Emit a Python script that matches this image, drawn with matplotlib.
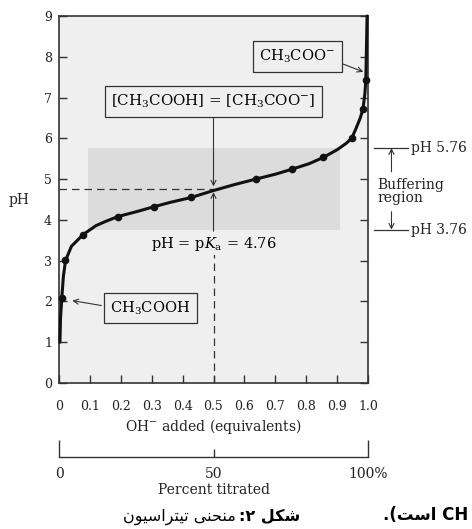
import matplotlib
matplotlib.use("Agg")
import matplotlib.pyplot as plt
from matplotlib.patches import Rectangle

plt.rcParams['font.family'] = ['DejaVu Serif']
plt.rcParams['mathtext.fontset'] = 'dejavuserif'

# ---- data ----
curve_x = [0.003, 0.005, 0.009, 0.014, 0.021, 0.04, 0.078, 0.12, 0.15, 0.19, 0.25,
           0.306, 0.36, 0.428, 0.5, 0.57, 0.637, 0.70, 0.755, 0.81, 0.855, 0.90,
           0.93, 0.947, 0.96, 0.975, 0.984, 0.99, 0.993, 0.995, 0.997]
curve_ph = [1.0, 1.6, 2.08, 2.6, 3.0, 3.35, 3.64, 3.86, 3.96, 4.08, 4.2,
            4.32, 4.43, 4.55, 4.72, 4.87, 5.0, 5.12, 5.245, 5.38, 5.53, 5.72,
            5.88, 6.0, 6.22, 6.5, 6.73, 7.1, 7.44, 8.2, 9.0]
marker_x = [0.009, 0.021, 0.078, 0.19, 0.306, 0.428, 0.637, 0.755, 0.855, 0.947, 0.984, 0.993]
marker_ph = [2.08, 3.01, 3.64, 4.08, 4.32, 4.55, 5.0, 5.245, 5.53, 6.0, 6.73, 7.44]
pka = 4.76
buffer_low, buffer_high = 3.76, 5.76
buffer_x = [0.095, 0.91]
x_ticks = [0, 0.1, 0.2, 0.3, 0.4, 0.5, 0.6, 0.7, 0.8, 0.9, 1.0]
x_tick_labels = ['0', '0.1', '0.2', '0.3', '0.4', '0.5', '0.6', '0.7', '0.8', '0.9', '1.0']
y_ticks = list(range(0, 10))
pct_major = [0, 100]
pct_major_labels = ['0', '100%']
pct_minor = [50]
pct_minor_labels = ['50']

W, H = 472, 529
fig = plt.figure(figsize=(W / 100, H / 100), dpi=100)
ax = fig.add_axes([59 / W, 1 - 383 / H, 309 / W, (383 - 16) / H])
ax.set_facecolor('#efefef')
ax.set_xlim(0, 1)
ax.set_ylim(0, 9)

dark = '#333333'
for s in ax.spines.values():
    s.set_color(dark)
    s.set_linewidth(1.2)

ax.add_patch(Rectangle((buffer_x[0], buffer_low), buffer_x[1] - buffer_x[0],
                       buffer_high - buffer_low, facecolor='#dcdcdc', edgecolor='none', zorder=1))

# dashed guide lines
ax.plot([0, 0.5], [pka, pka], ls=(0, (6, 4)), color=dark, lw=0.9, zorder=2)
ax.plot([0.5, 0.5], [0, 3.3], ls=(0, (6, 4)), color=dark, lw=0.9, zorder=2)

ax.plot(curve_x, curve_ph, color='#111111', lw=2.2, zorder=4, clip_on=False,
        solid_capstyle='round')
ax.plot(marker_x, marker_ph, 'o', color='#111111', ms=4.5, zorder=5, clip_on=False)

ax.set_xticks(x_ticks, labels=x_tick_labels)
ax.set_yticks(y_ticks)
ax.tick_params(axis='both', direction='in', length=6, width=1, color=dark,
               labelsize=9, labelcolor='#222222', pad=5)
ax.tick_params(axis='x', pad=12)
ax.tick_params(axis='y', right=True)
ax.set_xlabel('OH$^{-}$ added (equivalents)', fontsize=10, labelpad=3, color='#222222')

fig.text(19 / W, 1 - 200 / H, 'pH', ha='center', va='center', fontsize=10, color='#222222')

arrow_kw = dict(arrowstyle='->', color=dark, lw=0.8, shrinkA=0, shrinkB=0,
                mutation_scale=9)
box_kw = dict(boxstyle='square,pad=0.45', facecolor='#efefef', edgecolor=dark, lw=0.9)

ax.text(0.5, 6.91, '[CH$_3$COOH] = [CH$_3$COO$^{-}$]', ha='center', va='center',
        fontsize=10.8, bbox=box_kw, zorder=6)
ax.annotate('', xy=(0.5, 4.82), xytext=(0.5, 6.5), arrowprops=arrow_kw, zorder=6)

ax.text(0.771, 8.01, 'CH$_3$COO$^{-}$', ha='center', va='center', fontsize=10.5,
        bbox=box_kw, zorder=6)
ax.annotate('', xy=(0.985, 7.63), xytext=(0.92, 7.82), arrowprops=arrow_kw, zorder=6)

ax.text(0.295, 1.84, 'CH$_3$COOH', ha='center', va='center', fontsize=10.5,
        bbox=box_kw, zorder=6)
ax.annotate('', xy=(0.043, 2.02), xytext=(0.137, 1.9), arrowprops=arrow_kw, zorder=6)

ax.text(0.5, 3.42, 'pH = p$K_\\mathrm{a}$ = 4.76', ha='center', va='center', fontsize=10.5,
        bbox=dict(boxstyle='square,pad=0.15', facecolor='#efefef', edgecolor='none'),
        zorder=6)
ax.annotate('', xy=(0.5, 4.68), xytext=(0.5, 3.72), arrowprops=arrow_kw, zorder=6)

# buffering region marks on the right
for yv, lab in [(buffer_high, 'pH 5.76'), (buffer_low, 'pH 3.76')]:
    ax.plot([1.018, 1.128], [yv, yv], color=dark, lw=0.9, clip_on=False)
    ax.text(1.14, yv, lab, ha='left', va='center', fontsize=10, color='#222222',
            clip_on=False)
ax.annotate('', xy=(1.076, buffer_high), xytext=(1.076, 5.18), arrowprops=arrow_kw,
            annotation_clip=False)
ax.annotate('', xy=(1.076, buffer_low), xytext=(1.076, 4.2), arrowprops=arrow_kw,
            annotation_clip=False)
ax.text(1.031, 4.69, 'Buffering\nregion', ha='left', va='center', fontsize=10,
        color='#222222', linespacing=0.95, clip_on=False)

# percent titrated scale
ax2 = fig.add_axes([59 / W, 1 - 457 / H, 309 / W, 0.001])
ax2.set_xlim(0, 100)
ax2.patch.set_visible(False)
for k in ['top', 'left', 'right']:
    ax2.spines[k].set_visible(False)
ax2.spines['bottom'].set_color(dark)
ax2.spines['bottom'].set_linewidth(1.0)
ax2.set_yticks([])
ax2.set_xticks(pct_major, labels=pct_major_labels)
ax2.set_xticks(pct_minor, labels=pct_minor_labels, minor=True)
ax2.tick_params(axis='x', which='major', direction='in', length=12, width=1, color=dark,
                labelsize=10, labelcolor='#222222', pad=7)
ax2.tick_params(axis='x', which='minor', direction='in', length=6, width=1, color=dark,
                labelsize=10, labelcolor='#222222', pad=7)
ax2.set_xlabel('Percent titrated', fontsize=10, labelpad=2, color='#222222')

# Persian caption (visual order, presentation forms)
word_titration = '\uFEE5\uFEEE\uFEF4\uFEB3\uFE8D\uFEAE\uFE98\uFEF4\uFE97'
word_curve = '\uFEF0\uFEE8\uFEA4\uFEE8\uFEE3'
word_fig = '\uFEDE\uFEDC\uFEB7'
fig.text(236 / W, 1 - 517 / H, word_titration + ' ' + word_curve, ha='right', va='center',
         fontsize=11.5, family=['DejaVu Sans'])
fig.text(300 / W, 1 - 517 / H, ':\u06F2 ' + word_fig, ha='right', va='center',
         fontsize=11.5, fontweight='bold', family=['DejaVu Sans'])
fig.text(383 / W, 1 - 515 / H, '.(' + '\uFE96\uFEB3\uFE8D' + ' CH', ha='left', va='center',
         fontsize=12, fontweight='bold', family=['DejaVu Sans'])

fig.savefig('out.png', dpi=100)
